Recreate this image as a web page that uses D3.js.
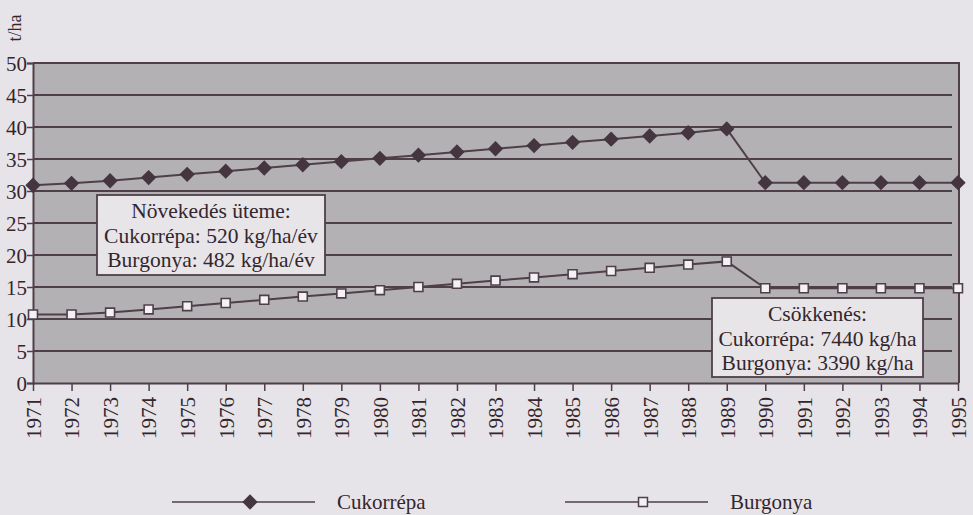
<!DOCTYPE html>
<html>
<head>
<meta charset="utf-8">
<style>
  body { margin: 0; background: #e7e4e9; }
  svg { display: block; }
</style>
</head>
<body>
<svg width="973" height="515"></svg>
<script src="https://d3js.org/d3.v7.min.js"></script>
<script>

// data (t/ha)
var years = [1971,1972,1973,1974,1975,1976,1977,1978,1979,1980,1981,1982,1983,
             1984,1985,1986,1987,1988,1989,1990,1991,1992,1993,1994,1995];
var cukorrepa = [30.9,31.2,31.6,32.1,32.6,33.1,33.6,34.1,34.6,35.1,35.6,36.1,36.6,
                 37.1,37.6,38.1,38.6,39.1,39.7,31.3,31.3,31.3,31.3,31.3,31.3];
var burgonya = [10.7,10.7,11.0,11.5,12.0,12.5,13.0,13.5,14.0,14.5,15.0,15.5,16.0,
                16.5,17.0,17.5,18.0,18.5,19.0,14.8,14.8,14.8,14.8,14.8,14.8];
var yTicks = [0,5,10,15,20,25,30,35,40,45,50];
var seriesNames = ["Cukorrépa", "Burgonya"];
var noteGrowth = ["Növekedés üteme:", "Cukorrépa: 520 kg/ha/év", "Burgonya: 482 kg/ha/év"];
var noteDrop = ["Csökkenés:", "Cukorrépa: 7440 kg/ha", "Burgonya: 3390 kg/ha"];

var ink = "#4f3f49";
var serif = "'Liberation Serif', 'Times New Roman', Tinos, 'DejaVu Serif', serif";
var textCol = "#33262d";

var svg = d3.select("svg"),
    margin = {top: 63, right: 14, bottom: 132, left: 33},
    width = 973 - margin.left - margin.right,
    height = 515 - margin.top - margin.bottom,
    g = svg.append("g").attr("transform", "translate(" + margin.left + "," + margin.top + ")");

function serifText(sel, size) {
    return sel.style("font-family", serif).style("font-size", size + "px").style("fill", textCol);
}

var x = d3.scaleLinear().domain([1971, 1995]).range([0, width - 1]);
var y = d3.scaleLinear().domain([0, 50]).range([height, 0]);

// plot background
g.append("rect")
    .attr("width", width).attr("height", height)
    .attr("fill", "#b4b1b5");

// gridlines
g.selectAll(".grid")
    .data(yTicks.filter(function(d) { return d > 0 && d < 50; }))
  .enter().append("line")
    .attr("x1", 0).attr("x2", width - 7)
    .attr("y1", function(d) { return y(d); })
    .attr("y2", function(d) { return y(d); })
    .attr("stroke", ink).attr("stroke-width", 2);

// frame top + right
g.append("path")
    .attr("d", "M0," + y(50) + "H" + width + "V" + height)
    .attr("fill", "none").attr("stroke", ink).attr("stroke-width", 2);

// y axis
var yAxis = g.append("g")
    .call(d3.axisLeft(y).tickValues(yTicks).tickSize(6).tickPadding(0));
yAxis.select(".domain").attr("stroke", ink).attr("stroke-width", 2);
yAxis.selectAll(".tick line").attr("stroke", ink).attr("stroke-width", 1.5);
serifText(yAxis.selectAll("text"), 21).attr("dy", "0.35em");

// x axis
var xAxis = g.append("g")
    .attr("transform", "translate(0," + height + ")")
    .call(d3.axisBottom(x).tickValues(years).tickFormat(d3.format("d")).tickSize(8).tickSizeOuter(0));
xAxis.select(".domain").attr("stroke", ink).attr("stroke-width", 2);
xAxis.selectAll(".tick line").attr("stroke", ink).attr("stroke-width", 1.5);
serifText(xAxis.selectAll("text"), 21)
    .attr("transform", "rotate(-90)")
    .attr("text-anchor", "end")
    .attr("x", -14).attr("y", 0).attr("dy", "0.35em");

// unit label
serifText(svg.append("text"), 18)
    .attr("transform", "translate(21,28) rotate(-90)")
    .attr("text-anchor", "middle")
    .text("t/ha");

var line = d3.line()
    .x(function(d, i) { return x(years[i]); })
    .y(function(d) { return y(d); });

var diamond = d3.symbol().type(d3.symbolDiamond2).size(150);
var square = d3.symbol().type(d3.symbolSquare).size(80);

g.append("path").datum(cukorrepa)
    .attr("d", line).attr("fill", "none").attr("stroke", ink).attr("stroke-width", 2);
g.selectAll(".cuk").data(cukorrepa).enter().append("path")
    .attr("transform", function(d, i) { return "translate(" + x(years[i]) + "," + y(d) + ")"; })
    .attr("d", diamond).attr("fill", "#45353f");

g.append("path").datum(burgonya)
    .attr("d", line).attr("fill", "none").attr("stroke", ink).attr("stroke-width", 2);
g.selectAll(".bur").data(burgonya).enter().append("path")
    .attr("transform", function(d, i) { return "translate(" + x(years[i]) + "," + y(d) + ")"; })
    .attr("d", square).attr("fill", "#f3f1f3").attr("stroke", ink).attr("stroke-width", 1.6);

// annotation boxes
function noteBox(lines, left, top, w, h) {
    var b = svg.append("g").attr("transform", "translate(" + left + "," + top + ")");
    b.append("rect").attr("width", w).attr("height", h)
        .attr("fill", "#e8e5e9").attr("stroke", ink).attr("stroke-width", 1.8);
    serifText(b.selectAll("text").data(lines).enter().append("text"), 21.5)
        .attr("x", w / 2).attr("y", function(d, i) { return 23 + i * 24.5; })
        .attr("text-anchor", "middle")
        .text(function(d) { return d; });
}
noteBox(noteGrowth, 97, 195, 228, 80);
noteBox(noteDrop, 712, 298, 211, 79);

// legend
var legend = svg.append("g").attr("transform", "translate(0,502)");
var legX = [172, 565];
seriesNames.forEach(function(name, i) {
    var lg = legend.append("g").attr("transform", "translate(" + legX[i] + ",0)");
    lg.append("line").attr("x1", 0).attr("x2", 143).attr("stroke", ink).attr("stroke-width", 1.5);
    lg.append("path").attr("transform", "translate(78,0)")
        .attr("d", i == 0 ? diamond : square)
        .attr("fill", i == 0 ? "#45353f" : "#f3f1f3")
        .attr("stroke", i == 0 ? "none" : ink).attr("stroke-width", 1.5);
    serifText(lg.append("text"), 21).attr("x", 165).attr("dy", "0.35em").text(name);
});

</script>
</body>
</html>
